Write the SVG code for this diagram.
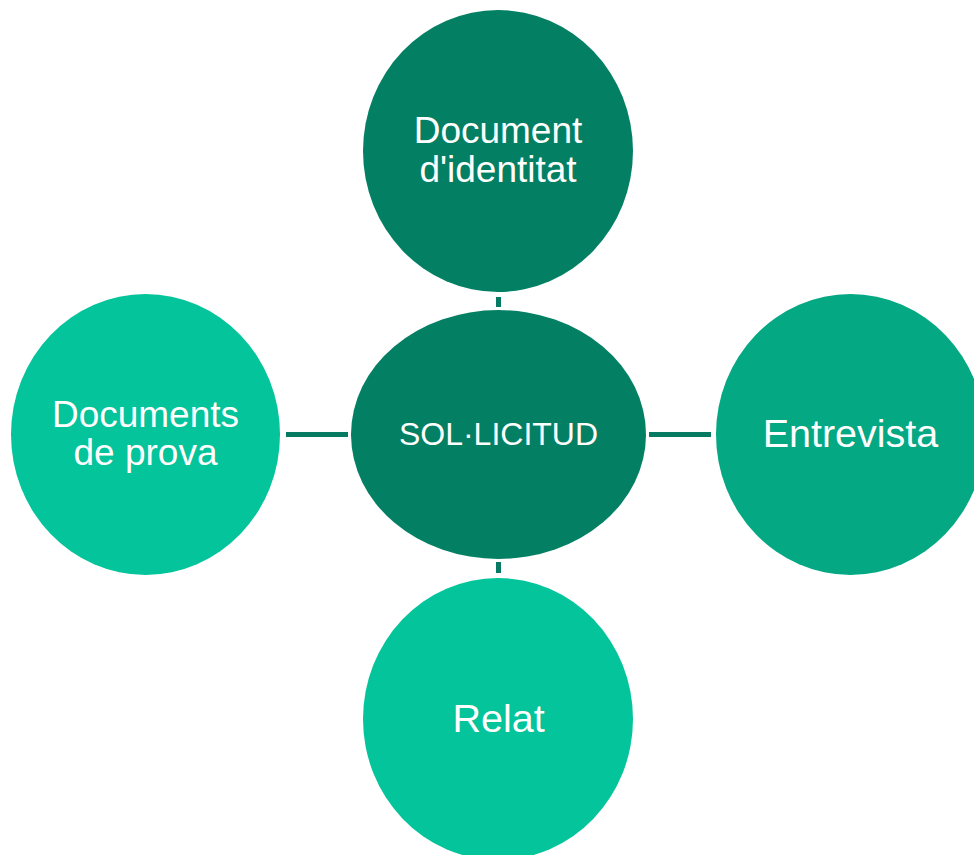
<svg xmlns="http://www.w3.org/2000/svg" width="974" height="855" viewBox="0 0 974 855">
<style>
.t{font-family:"Liberation Sans",Arial,sans-serif;fill:#ffffff;text-anchor:middle}
.c{stroke:#067A62;stroke-width:5;fill:none}
</style>
<rect width="974" height="855" fill="#ffffff"/>
<g id="connectors">
<line class="c" x1="498.5" y1="297" x2="498.5" y2="307"/>
<line class="c" x1="498.5" y1="562" x2="498.5" y2="573"/>
<line class="c" x1="286" y1="434.5" x2="348" y2="434.5"/>
<line class="c" x1="649" y1="434.5" x2="711" y2="434.5"/>
</g>
<g id="node-center">
<ellipse cx="498.5" cy="434.5" rx="147.5" ry="124.5" fill="#038064"/>
<text class="t" x="498.5" y="445" font-size="32">SOL·LICITUD</text>
</g>
<g id="node-top">
<ellipse cx="498" cy="151" rx="135" ry="141" fill="#038064"/>
<text class="t" x="498" y="143" font-size="37">Document</text>
<text class="t" x="498" y="182" font-size="37">d'identitat</text>
</g>
<g id="node-left">
<ellipse cx="145.5" cy="434.5" rx="134.5" ry="140.5" fill="#03C49A"/>
<text class="t" x="145.5" y="427" font-size="37">Documents</text>
<text class="t" x="145.5" y="465" font-size="37">de prova</text>
</g>
<g id="node-right">
<ellipse cx="850.5" cy="434.5" rx="134.5" ry="140.5" fill="#04A883"/>
<text class="t" x="850.5" y="447" font-size="39.5">Entrevista</text>
</g>
<g id="node-bottom">
<ellipse cx="498" cy="719" rx="135" ry="141" fill="#03C49A"/>
<text class="t" x="498.5" y="732" font-size="39.5">Relat</text>
</g>
</svg>
